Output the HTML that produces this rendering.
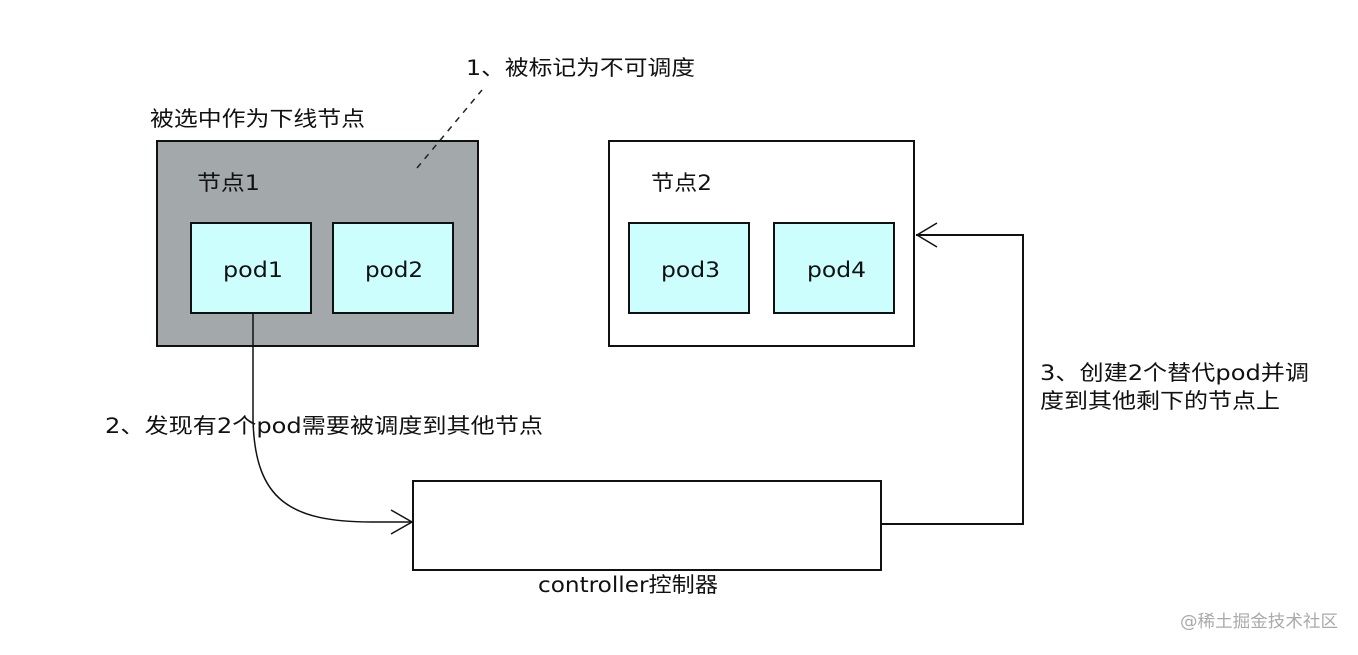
<!DOCTYPE html>
<html><head><meta charset="utf-8"><style>
html,body{margin:0;padding:0;background:#fff;}
svg text{font-family:"DejaVu Sans","Noto Sans CJK SC",sans-serif;fill:#111;}
</style></head><body>
<svg width="1358" height="650" viewBox="0 0 1358 650" xmlns="http://www.w3.org/2000/svg">
<rect width="1358" height="650" fill="#fff"/>
<text x="466" y="75" font-size="21" textLength="229" lengthAdjust="spacingAndGlyphs">1、被标记为不可调度</text>
<text x="150" y="126" font-size="21" textLength="215" lengthAdjust="spacingAndGlyphs">被选中作为下线节点</text>
<rect x="157" y="141" width="321" height="205" fill="#a3a8ab" stroke="#111" stroke-width="2"/>
<line x1="417" y1="168" x2="482" y2="90" stroke="#222" stroke-width="1.5" stroke-dasharray="6,6"/>
<text x="197" y="190" font-size="21" textLength="63" lengthAdjust="spacingAndGlyphs">节点1</text>
<rect x="191" y="223" width="120" height="90" fill="#ccfefe" stroke="#111" stroke-width="2"/>
<text x="223" y="277" font-size="21" textLength="60" lengthAdjust="spacingAndGlyphs">pod1</text>
<rect x="333" y="223" width="120" height="90" fill="#ccfefe" stroke="#111" stroke-width="2"/>
<text x="365" y="277" font-size="21" textLength="58" lengthAdjust="spacingAndGlyphs">pod2</text>
<rect x="609" y="141" width="305" height="205" fill="#fff" stroke="#111" stroke-width="2"/>
<text x="651" y="190" font-size="21" textLength="61" lengthAdjust="spacingAndGlyphs">节点2</text>
<rect x="629" y="223" width="120" height="90" fill="#ccfefe" stroke="#111" stroke-width="2"/>
<text x="661" y="277" font-size="21" textLength="59" lengthAdjust="spacingAndGlyphs">pod3</text>
<rect x="774" y="223" width="120" height="90" fill="#ccfefe" stroke="#111" stroke-width="2"/>
<text x="807" y="277" font-size="21" textLength="59" lengthAdjust="spacingAndGlyphs">pod4</text>
<path d="M253 313 L253 420 C255 500 290 522 372 522 L413 522" fill="none" stroke="#111" stroke-width="1.5"/>
<path d="M391 510 L412 522 L391 534" fill="none" stroke="#111" stroke-width="1.5"/>
<text x="105" y="433" font-size="21" textLength="438" lengthAdjust="spacingAndGlyphs">2、发现有2个pod需要被调度到其他节点</text>
<rect x="413" y="481" width="468" height="89" fill="#fff" stroke="#111" stroke-width="2"/>
<text x="538" y="592" font-size="21" textLength="180" lengthAdjust="spacingAndGlyphs">controller控制器</text>
<path d="M881 524 L1023 524 L1023 235 L916 235" fill="none" stroke="#111" stroke-width="2"/>
<path d="M937 223 L917 235 L937 247" fill="none" stroke="#111" stroke-width="1.5"/>
<text x="1040" y="380" font-size="21" textLength="269" lengthAdjust="spacingAndGlyphs">3、创建2个替代pod并调</text>
<text x="1040" y="408" font-size="21" textLength="240" lengthAdjust="spacingAndGlyphs">度到其他剩下的节点上</text>
<text x="1180" y="627" font-size="17" textLength="158" lengthAdjust="spacingAndGlyphs" style="fill:#aaa">@稀土掘金技术社区</text>
</svg>
</body></html>
